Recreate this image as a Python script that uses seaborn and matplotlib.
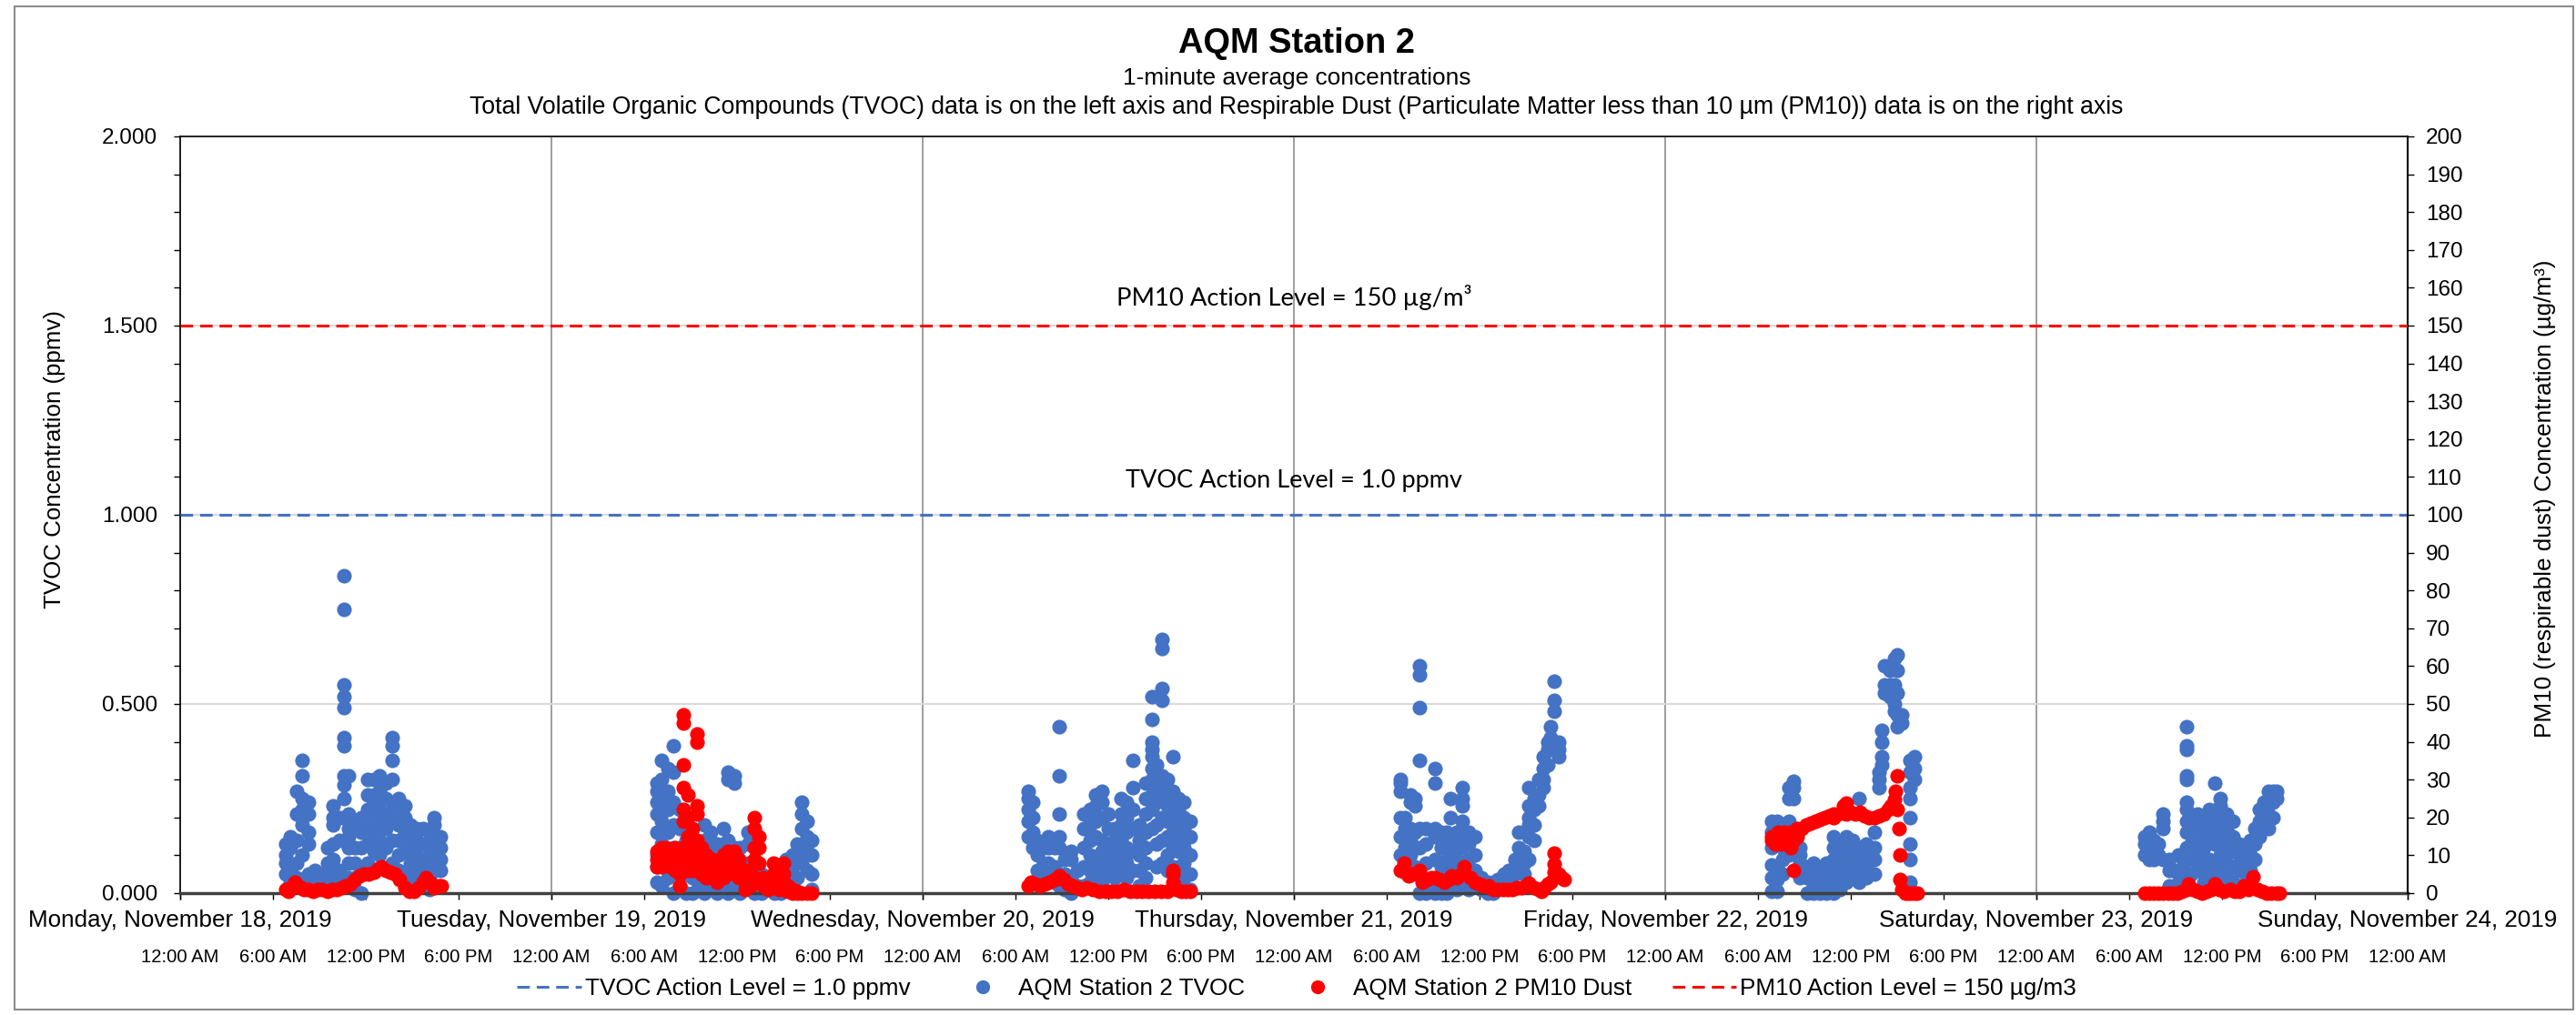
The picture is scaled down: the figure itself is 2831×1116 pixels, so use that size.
import matplotlib

matplotlib.use("Agg")

import matplotlib.dates as mdates
import matplotlib.pyplot as plt
import pandas as pd
import seaborn as sns
from matplotlib.lines import Line2D
from matplotlib.patches import Rectangle
from matplotlib.ticker import FuncFormatter, MultipleLocator

sns.set_theme(style="ticks")
plt.rcParams["font.family"] = ["Liberation Sans", "DejaVu Sans"]
for key in ["text.color", "axes.labelcolor", "xtick.color", "ytick.color"]:
    plt.rcParams[key] = "black"

BLUE = "#4472C4"
RED = "#FF0000"
DASH = (0, (4.5, 2.5))

X_START = "2019-11-18"
X_END = "2019-11-24"
DAY_STARTS = ["2019-11-18", "2019-11-19", "2019-11-20", "2019-11-21", "2019-11-22", "2019-11-23"]

TVOC_ACTION = 1.0   # ppmv
PM10_ACTION = 150   # ug/m3

# TVOC (ppmv): (hour of day, readings around that time)
TVOC_MON = [
    (6.8, [0.13, 0.10, 0.08, 0.05]), (7.1, [0.15, 0.12, 0.06, 0.03]),
    (7.5, [0.27, 0.21, 0.14, 0.08, 0.04]), (7.9, [0.35, 0.31, 0.25, 0.22, 0.18, 0.10, 0.03]),
    (8.3, [0.24, 0.21, 0.16, 0.13, 0.05, 0.02]), (8.7, [0.06, 0.03, 0.02]),
    (9.1, [0.05, 0.02]), (9.5, [0.12, 0.08, 0.04, 0.02]),
    (9.9, [0.23, 0.20, 0.18, 0.13, 0.09, 0.05]), (10.3, [0.20, 0.14, 0.06, 0.03]),
    (10.6, [0.84, 0.75, 0.55, 0.52, 0.49, 0.41, 0.39, 0.31, 0.285, 0.25]),
    (10.9, [0.31, 0.21, 0.19, 0.17, 0.15, 0.12, 0.08, 0.04]), (11.3, [0.17, 0.12, 0.08, 0.04, 0.01]),
    (11.7, [0.20, 0.16, 0.12, 0.06, 0.0]), (12.1, [0.30, 0.26, 0.22, 0.17, 0.13, 0.08]),
    (12.5, [0.30, 0.26, 0.24, 0.20, 0.15, 0.11]), (12.9, [0.31, 0.27, 0.22, 0.18, 0.14, 0.10]),
    (13.3, [0.29, 0.25, 0.21, 0.17, 0.12]), (13.7, [0.41, 0.39, 0.35, 0.30, 0.24, 0.19, 0.14, 0.08]),
    (14.1, [0.25, 0.22, 0.18, 0.14, 0.10, 0.06]), (14.5, [0.23, 0.20, 0.16, 0.11, 0.05, 0.02]),
    (14.9, [0.18, 0.15, 0.12, 0.08, 0.04]), (15.3, [0.17, 0.14, 0.10, 0.06, 0.02]),
    (15.7, [0.17, 0.13, 0.09, 0.05]), (16.1, [0.16, 0.12, 0.08, 0.04, 0.01]),
    (16.4, [0.20, 0.18, 0.14, 0.10, 0.06]), (16.8, [0.15, 0.12, 0.09, 0.06]),
]
TVOC_TUE = [
    (6.8, [0.29, 0.27, 0.24, 0.21, 0.16, 0.10, 0.07, 0.03]), (7.1, [0.35, 0.30, 0.25, 0.19, 0.13, 0.08, 0.02]),
    (7.5, [0.33, 0.27, 0.22, 0.16, 0.10, 0.04]), (7.9, [0.39, 0.32, 0.24, 0.18, 0.12, 0.06, 0.0]),
    (8.3, [0.22, 0.17, 0.12, 0.07, 0.02]), (8.7, [0.14, 0.10, 0.05, 0.0]),
    (9.1, [0.12, 0.08, 0.04, 0.0]), (9.5, [0.10, 0.06, 0.02]),
    (9.9, [0.18, 0.14, 0.09, 0.04, 0.0]), (10.3, [0.16, 0.12, 0.07, 0.02]),
    (10.7, [0.13, 0.09, 0.05, 0.0]), (11.1, [0.17, 0.13, 0.08, 0.03]),
    (11.4, [0.32, 0.30, 0.14, 0.09, 0.04, 0.0]), (11.8, [0.31, 0.29, 0.12, 0.07, 0.02]),
    (12.2, [0.12, 0.08, 0.04, 0.0]), (12.7, [0.16, 0.13, 0.08, 0.03]),
    (13.1, [0.07, 0.03, 0.0]), (13.6, [0.05, 0.02, 0.0]), (14.0, [0.04, 0.01]),
    (14.4, [0.05, 0.02, 0.0]), (14.8, [0.06, 0.03, 0.0]), (15.2, [0.09, 0.05, 0.02]),
    (15.6, [0.10, 0.07, 0.03]), (15.9, [0.13, 0.09, 0.04]),
    (16.2, [0.24, 0.21, 0.17, 0.12, 0.08]), (16.5, [0.19, 0.15, 0.11, 0.06]),
    (16.8, [0.14, 0.10, 0.05, 0.01]),
]
TVOC_WED = [
    (6.8, [0.27, 0.25, 0.22, 0.19, 0.15]), (7.1, [0.24, 0.20, 0.16, 0.12]),
    (7.4, [0.14, 0.10, 0.06]), (7.8, [0.12, 0.08, 0.04]),
    (8.1, [0.15, 0.12, 0.08, 0.05]), (8.5, [0.14, 0.12, 0.07, 0.03]),
    (8.8, [0.44, 0.31, 0.21, 0.15, 0.12, 0.05, 0.02]), (9.2, [0.09, 0.05, 0.01]),
    (9.6, [0.11, 0.09, 0.04, 0.0]), (10.0, [0.06, 0.02]),
    (10.4, [0.21, 0.17, 0.12, 0.07, 0.02]), (10.8, [0.22, 0.18, 0.14, 0.10, 0.06, 0.03]),
    (11.2, [0.26, 0.23, 0.19, 0.15, 0.09, 0.05]), (11.6, [0.27, 0.24, 0.20, 0.14, 0.11, 0.07, 0.03]),
    (12.0, [0.21, 0.17, 0.13, 0.10, 0.05]), (12.4, [0.17, 0.14, 0.11, 0.08, 0.04]),
    (12.8, [0.25, 0.21, 0.18, 0.14, 0.10, 0.06]), (13.2, [0.24, 0.20, 0.16, 0.12, 0.08, 0.04]),
    (13.6, [0.35, 0.28, 0.22, 0.17, 0.11, 0.06]), (14.0, [0.18, 0.14, 0.10, 0.06, 0.02]),
    (14.4, [0.29, 0.25, 0.21, 0.16, 0.12, 0.08, 0.04]),
    (14.8, [0.52, 0.46, 0.40, 0.38, 0.36, 0.33, 0.30, 0.26, 0.22, 0.17]),
    (15.1, [0.34, 0.29, 0.24, 0.18, 0.13, 0.07]),
    (15.45, [0.67, 0.646, 0.54, 0.51, 0.31, 0.26, 0.20, 0.14, 0.08]),
    (15.8, [0.30, 0.27, 0.23, 0.19, 0.15, 0.10, 0.06]), (16.2, [0.36, 0.27, 0.24, 0.20, 0.16, 0.12, 0.07]),
    (16.5, [0.25, 0.22, 0.19, 0.15, 0.11, 0.07]), (16.9, [0.24, 0.20, 0.17, 0.12, 0.08, 0.04]),
    (17.3, [0.19, 0.15, 0.10, 0.05, 0.01]),
]
TVOC_THU = [
    (6.9, [0.30, 0.29, 0.27, 0.20, 0.15, 0.10]), (7.2, [0.20, 0.17, 0.14, 0.12, 0.08]),
    (7.5, [0.26, 0.24, 0.17, 0.14, 0.10]), (7.8, [0.25, 0.23, 0.16, 0.12, 0.07]),
    (8.1, [0.60, 0.578, 0.49, 0.35, 0.17, 0.12, 0.05, 0.0]), (8.5, [0.17, 0.13, 0.08, 0.02, 0.0]),
    (9.1, [0.33, 0.29, 0.17, 0.15, 0.09, 0.03, 0.0]), (9.5, [0.16, 0.12, 0.07, 0.02, 0.0]),
    (9.9, [0.16, 0.13, 0.09, 0.04, 0.0]), (10.1, [0.25, 0.20, 0.15, 0.11, 0.06]),
    (10.5, [0.16, 0.13, 0.09, 0.05, 0.01]), (10.9, [0.28, 0.25, 0.23, 0.19, 0.15, 0.12, 0.08, 0.04]),
    (11.3, [0.16, 0.13, 0.09, 0.05, 0.01]), (11.7, [0.15, 0.10, 0.06, 0.02]),
    (12.1, [0.04, 0.01]), (12.5, [0.03, 0.0]), (12.9, [0.03, 0.0]), (13.2, [0.036, 0.01]),
    (13.6, [0.05, 0.02]), (13.9, [0.06, 0.03]), (14.3, [0.09, 0.05]),
    (14.5, [0.16, 0.12, 0.08]), (14.9, [0.11, 0.08, 0.05]),
    (15.2, [0.28, 0.23, 0.20, 0.18, 0.15, 0.09]), (15.5, [0.25, 0.22, 0.18, 0.14]),
    (15.8, [0.30, 0.26, 0.23]), (16.1, [0.36, 0.33, 0.30, 0.28]), (16.4, [0.40, 0.38, 0.34]),
    (16.6, [0.44, 0.41, 0.38]), (16.8, [0.56, 0.51, 0.48]), (17.1, [0.40, 0.38, 0.36]),
]
TVOC_FRI = [
    (6.9, [0.19, 0.16, 0.12, 0.075, 0.04, 0.005]), (7.25, [0.19, 0.13, 0.07, 0.037, 0.005]),
    (7.6, [0.12, 0.09, 0.05]), (8.0, [0.28, 0.25, 0.19, 0.10]), (8.3, [0.295, 0.28, 0.25, 0.12]),
    (8.7, [0.12, 0.10, 0.08, 0.04]), (9.2, [0.07, 0.04, 0.0]), (9.6, [0.08, 0.05, 0.02, 0.0]),
    (10.0, [0.06, 0.03, 0.0]), (10.4, [0.08, 0.05, 0.02, 0.0]),
    (10.9, [0.15, 0.12, 0.09, 0.06, 0.03, 0.0]), (11.3, [0.13, 0.10, 0.07, 0.04, 0.01]),
    (11.7, [0.15, 0.12, 0.09, 0.06, 0.03]), (12.1, [0.14, 0.11, 0.08, 0.05]),
    (12.55, [0.25, 0.12, 0.09, 0.06, 0.03]), (13.0, [0.13, 0.10, 0.07, 0.04]),
    (13.5, [0.16, 0.12, 0.09, 0.05]), (13.8, [0.32, 0.30, 0.28]), (14.0, [0.43, 0.40, 0.36, 0.34]),
    (14.2, [0.60, 0.55, 0.53]), (14.5, [0.60, 0.59, 0.55, 0.52]), (14.8, [0.62, 0.55, 0.50, 0.48]),
    (15.0, [0.63, 0.59, 0.53, 0.47, 0.44]), (15.3, [0.47, 0.45]),
    (15.8, [0.35, 0.32, 0.28, 0.25, 0.20, 0.13, 0.09, 0.03]), (16.1, [0.36, 0.33, 0.30]),
]
TVOC_SAT = [
    (7.0, [0.15, 0.13, 0.10]), (7.3, [0.16, 0.13, 0.09]), (7.6, [0.14, 0.12, 0.09]),
    (7.9, [0.13, 0.10]), (8.2, [0.21, 0.19, 0.17, 0.09]), (8.6, [0.09, 0.06, 0.02]),
    (8.9, [0.06, 0.02]), (9.2, [0.10, 0.05, 0.02]), (9.5, [0.08, 0.04, 0.01]),
    (9.7, [0.44, 0.39, 0.38, 0.31, 0.30, 0.24, 0.22, 0.19, 0.16, 0.12]),
    (10.0, [0.20, 0.17, 0.13, 0.09, 0.05]), (10.4, [0.21, 0.18, 0.14, 0.10, 0.06]),
    (10.8, [0.20, 0.16, 0.12, 0.08, 0.03]), (11.2, [0.22, 0.18, 0.14, 0.09, 0.05]),
    (11.5, [0.29, 0.21, 0.17, 0.13, 0.08, 0.04]), (11.9, [0.25, 0.23, 0.19, 0.15, 0.10, 0.05]),
    (12.3, [0.21, 0.17, 0.13, 0.08, 0.04]), (12.7, [0.19, 0.15, 0.11, 0.07, 0.03]),
    (13.1, [0.13, 0.10, 0.06, 0.02]), (13.5, [0.12, 0.08, 0.05, 0.02]), (13.8, [0.14, 0.10, 0.06]),
    (14.1, [0.17, 0.13, 0.09]), (14.4, [0.22, 0.19, 0.15]), (14.7, [0.24, 0.21, 0.18]),
    (15.0, [0.27, 0.24, 0.21, 0.17]), (15.3, [0.27, 0.24, 0.20]), (15.55, [0.27, 0.25]),
]

# PM10 dust (ug/m3): (hour of day, readings around that time)
PM10_MON = [
    (6.8, [1]), (7.0, [0.5]), (7.2, [1.5]), (7.4, [3]), (7.6, [2]), (7.8, [1.5]), (8.0, [1]),
    (8.3, [1]), (8.6, [0.5]), (8.9, [1]), (9.2, [1]), (9.5, [0.5]), (9.8, [1]), (10.1, [1]),
    (10.4, [1.5]), (10.7, [2]), (11.0, [2.5]), (11.3, [3.5]), (11.6, [4.5]), (11.9, [5]),
    (12.2, [5]), (12.5, [5.5]), (12.8, [6.5]), (13.0, [7]), (13.3, [6]), (13.6, [5.5]),
    (13.9, [5]), (14.2, [3.5]), (14.5, [1.5]), (14.8, [0.5]), (15.1, [0.5]), (15.4, [1.5]),
    (15.7, [3]), (15.9, [4]), (16.1, [3]), (16.4, [1.5]), (16.7, [2]), (16.9, [2]),
]
PM10_TUE = [
    (6.8, [11, 9, 7]), (7.1, [12, 9, 7]), (7.4, [12, 10, 8]), (7.7, [11, 9, 7]), (8.0, [12, 9, 6]),
    (8.3, [11, 8, 5, 2]), (8.5, [47, 45, 34, 28, 22, 19, 12, 8]), (8.8, [26, 20, 15, 10, 6]),
    (9.1, [17, 13, 9, 6]), (9.4, [42, 40, 23, 21, 14, 10, 6]), (9.7, [12, 8, 5]),
    (10.0, [10, 7, 4]), (10.4, [9, 6, 4]), (10.7, [8, 5, 3]), (11.1, [10, 7, 4]),
    (11.4, [11, 8, 5]), (11.8, [11, 9, 6]), (12.1, [9, 7, 4]), (12.5, [6, 3, 1]), (12.9, [5, 2]),
    (13.1, [20, 17, 12, 9, 4]), (13.4, [15, 12, 8, 3]), (13.7, [4, 2]), (14.0, [3, 1]),
    (14.35, [8, 5, 2]), (14.7, [4, 2, 1]), (15.0, [8, 5, 1]), (15.3, [2, 0.5]), (15.6, [1, 0]),
    (15.9, [0.5, 0]), (16.2, [0]), (16.5, [0]), (16.8, [0]),
]
PM10_WED = [
    (6.8, [2]), (7.0, [3]), (7.3, [2.5]), (7.6, [2]), (7.9, [2.5]), (8.2, [3]), (8.5, [3.5]),
    (8.8, [4.6]), (9.1, [3.5]), (9.4, [2.5]), (9.7, [2]), (10.0, [1.5]), (10.3, [1]),
    (10.6, [1.5]), (11.0, [1]), (11.4, [0.5]), (11.8, [0.5]), (12.2, [0.5]), (12.6, [0.5]),
    (13.0, [1]), (13.4, [0.5]), (13.8, [0.5]), (14.2, [0.5]), (14.6, [0.5]), (15.0, [0.5]),
    (15.4, [0.5]), (15.8, [0.5]), (16.2, [6, 5, 3]), (16.4, [1]), (16.7, [0.5]), (17.0, [0.5]),
    (17.3, [0.5]),
]
PM10_THU = [
    (6.9, [6]), (7.1, [8]), (7.2, [5.5]), (7.4, [4.6]), (7.6, [5]), (7.9, [5]), (8.1, [6]),
    (8.3, [3]), (8.6, [3.5]), (8.9, [4]), (9.1, [4]), (9.4, [3.5]), (9.7, [3]), (10.0, [3.5]),
    (10.2, [4.5]), (10.5, [4]), (10.8, [5]), (11.0, [7, 5]), (11.4, [4]), (11.7, [3]),
    (12.0, [2.5]), (12.3, [2]), (12.6, [2]), (12.9, [1]), (13.2, [1]), (13.5, [1]), (13.8, [1]),
    (14.1, [1]), (14.4, [1.5]), (14.7, [1.5]), (15.0, [2]), (15.2, [2.6]), (15.5, [1.5]),
    (15.8, [1]), (16.0, [0.5]), (16.2, [1.5]), (16.4, [2.5]), (16.6, [3]),
    (16.85, [10.5, 7.8, 5.5]), (17.1, [5]), (17.3, [4]), (17.45, [3.7]),
]
PM10_FRI = [
    (6.9, [15, 14]), (7.1, [13, 15]), (7.3, [14, 16]), (7.5, [15, 13]), (7.7, [16, 14]),
    (7.9, [15, 13]), (8.1, [16, 12]), (8.3, [6, 14]), (8.5, [17, 15]), (8.8, [17]), (9.1, [18]),
    (9.4, [18.5]), (9.7, [19]), (10.0, [19.5]), (10.3, [20]), (10.6, [20.5]), (10.9, [20, 21]),
    (11.2, [21]), (11.5, [21.5, 23]), (11.7, [23.8, 21]), (12.0, [21.5]), (12.3, [21]),
    (12.6, [21.5]), (12.9, [20.5]), (13.2, [20]), (13.5, [20]), (13.8, [20.5]), (14.1, [21]),
    (14.4, [22]), (14.6, [23]), (14.8, [24.7]), (14.9, [27]), (15.0, [31, 22]), (15.1, [17]),
    (15.15, [10]), (15.2, [3.7]), (15.3, [1]), (15.5, [0]), (15.7, [0]), (15.9, [0]),
    (16.1, [0]), (16.3, [0]),
]
PM10_SAT = [
    (7.0, [0]), (7.3, [0]), (7.6, [0]), (7.9, [0]), (8.2, [0]), (8.5, [0]), (8.8, [0]),
    (9.1, [0]), (9.4, [0.5]), (9.7, [1]), (9.85, [2.4]), (10.1, [1]), (10.4, [0.5]), (10.7, [0]),
    (11.0, [0.5]), (11.3, [1]), (11.5, [2.4]), (11.8, [1]), (12.1, [0.5]), (12.5, [1]),
    (12.8, [0.5]), (13.1, [0.5]), (13.4, [2]), (13.7, [1]), (14.0, [4.4]), (14.3, [1]),
    (14.6, [0.5]), (14.9, [0]), (15.2, [0]), (15.5, [0]), (15.7, [0]),
]

TVOC_DAYS = [TVOC_MON, TVOC_TUE, TVOC_WED, TVOC_THU, TVOC_FRI, TVOC_SAT]
PM10_DAYS = [PM10_MON, PM10_TUE, PM10_WED, PM10_THU, PM10_FRI, PM10_SAT]


def to_frame(days, column):
    rows = []
    for day, readings in zip(DAY_STARTS, days):
        for hour, values in readings:
            stamp = pd.Timestamp(day) + pd.to_timedelta(hour, unit="h")
            rows.extend({"time": stamp, column: v} for v in values)
    return pd.DataFrame(rows)


def day_label(x, _pos):
    d = mdates.num2date(x)
    return f"{d:%A}, {d:%B} {d.day}, {d.year}"


def time_label(x, _pos):
    d = mdates.num2date(x)
    return f"{d.hour % 12 or 12}:{d:%M} {d:%p}"


tvoc = to_frame(TVOC_DAYS, "tvoc")
pm10 = to_frame(PM10_DAYS, "pm10")

W, H = 2831, 1116
fig = plt.figure(figsize=(W / 100, H / 100), dpi=100)
ax = fig.add_axes([198 / W, 1 - 982 / H, (2646 - 198) / W, (982 - 150) / H])

sns.scatterplot(data=tvoc, x="time", y="tvoc", ax=ax, color=BLUE, s=135,
                linewidth=0, legend=False, clip_on=False)
ax.axhline(TVOC_ACTION, color=BLUE, lw=2.2, ls=DASH, zorder=3)

ax2 = ax.twinx()
sns.scatterplot(data=pm10, x="time", y="pm10", ax=ax2, color=RED, s=135,
                linewidth=0, legend=False, clip_on=False)
ax2.axhline(PM10_ACTION, color=RED, lw=2.2, ls=DASH, zorder=3)

x0, x1 = pd.Timestamp(X_START), pd.Timestamp(X_END)
ax.set_xlim(x0, x1)
ax2.set_xlim(x0, x1)
ax.set_ylim(0, 2)
ax2.set_ylim(0, 200)
ax.set_xlabel("")
ax.set_ylabel("")
ax2.set_ylabel("")

# y axes
ax.yaxis.set_major_locator(MultipleLocator(0.5))
ax.yaxis.set_minor_locator(MultipleLocator(0.1))
ax.yaxis.set_major_formatter(FuncFormatter(lambda v, _: f"{v:.3f}"))
ax.tick_params(axis="y", which="both", left=True, direction="out", length=5, width=1,
               pad=13, labelsize=17.5)
ax2.yaxis.set_major_locator(MultipleLocator(10))
ax2.yaxis.set_major_formatter(FuncFormatter(lambda v, _: f"{v:.0f}"))
ax2.tick_params(axis="y", which="major", right=True, direction="out", length=5, width=1,
                pad=9.5, labelsize=17.5)

# x axis: day names on top row, clock times below
ax.xaxis.set_major_locator(mdates.DayLocator())
ax.xaxis.set_minor_locator(mdates.HourLocator(byhour=[0, 6, 12, 18]))
ax.xaxis.remove_overlapping_locs = False
ax.xaxis.set_major_formatter(FuncFormatter(day_label))
ax.xaxis.set_minor_formatter(FuncFormatter(time_label))
ax.tick_params(axis="x", which="major", bottom=True, direction="out", length=5, width=1,
               pad=8, labelsize=18.7)
ax.tick_params(axis="x", which="minor", bottom=True, direction="out", length=5, width=1,
               pad=39, labelsize=14.6)

ax.grid(axis="x", which="major", color="#8C8C8C", lw=1.2)
ax.grid(axis="y", which="major", color="#D9D9D9", lw=1.5)
ax.set_axisbelow(True)

for name, spine in ax.spines.items():
    spine.set_visible(name in ("left", "top", "bottom"))
    spine.set_color("black")
    spine.set_linewidth(1.2)
ax.spines["bottom"].set_color("#404040")
ax.spines["bottom"].set_linewidth(2.5)
for name, spine in ax2.spines.items():
    spine.set_visible(name == "right")
ax2.spines["right"].set_color("black")
ax2.spines["right"].set_linewidth(1.5)

# action level labels
ax.text(0.5, 1.575, "PM10 Action Level = 150 µg/m³", transform=ax.get_yaxis_transform(),
        ha="center", va="center", fontsize=19.7, family=["Lato", "DejaVu Sans"])
ax.text(0.5, 1.089, "TVOC Action Level = 1.0 ppmv", transform=ax.get_yaxis_transform(),
        ha="center", va="center", fontsize=19.5, family=["Lato", "DejaVu Sans"])

# titles and axis titles
cx = 1425 / W
fig.text(cx, 1 - 48 / H, "AQM Station 2", ha="center", va="center", fontsize=27.4,
         fontweight="bold")
fig.text(cx, 1 - 86 / H, "1-minute average concentrations", ha="center", va="center",
         fontsize=18.9)
fig.text(cx, 1 - 118 / H,
         "Total Volatile Organic Compounds (TVOC) data is on the left axis and Respirable Dust "
         "(Particulate Matter less than 10 µm (PM10)) data is on the right axis",
         ha="center", va="center", fontsize=19.2)
fig.text(60 / W, 1 - 505 / H, "TVOC Concentration (ppmv)", rotation=90, ha="center",
         va="center", fontsize=18.6)
fig.text(2797 / W, 1 - 548 / H, "PM10 (respirable dust) Concentration (µg/m³)", rotation=90,
         ha="center", va="center", fontsize=18.8)

handles = [
    Line2D([], [], color=BLUE, lw=2.2, ls=DASH),
    Line2D([], [], ls="", marker="o", markersize=11, color=BLUE, markeredgewidth=0),
    Line2D([], [], ls="", marker="o", markersize=11, color=RED, markeredgewidth=0),
    Line2D([], [], color=RED, lw=2.2, ls=DASH),
]
labels = ["TVOC Action Level = 1.0 ppmv", "AQM Station 2 TVOC", "AQM Station 2 PM10 Dust",
          "PM10 Action Level = 150 µg/m3"]
fig.legend(handles, labels, loc="center", bbox_to_anchor=(cx, 1 - 1087 / H), ncol=4,
           frameon=False, fontsize=18.8, handlelength=2.7, handletextpad=0.15,
           columnspacing=1.7)

fig.patches.append(Rectangle((16 / W, 1 - 1110 / H), (2828 - 16) / W, (1110 - 7) / H,
                             transform=fig.transFigure, fill=False, edgecolor="#8C8C8C",
                             lw=1.5))

fig.savefig("out.png", dpi=100)
